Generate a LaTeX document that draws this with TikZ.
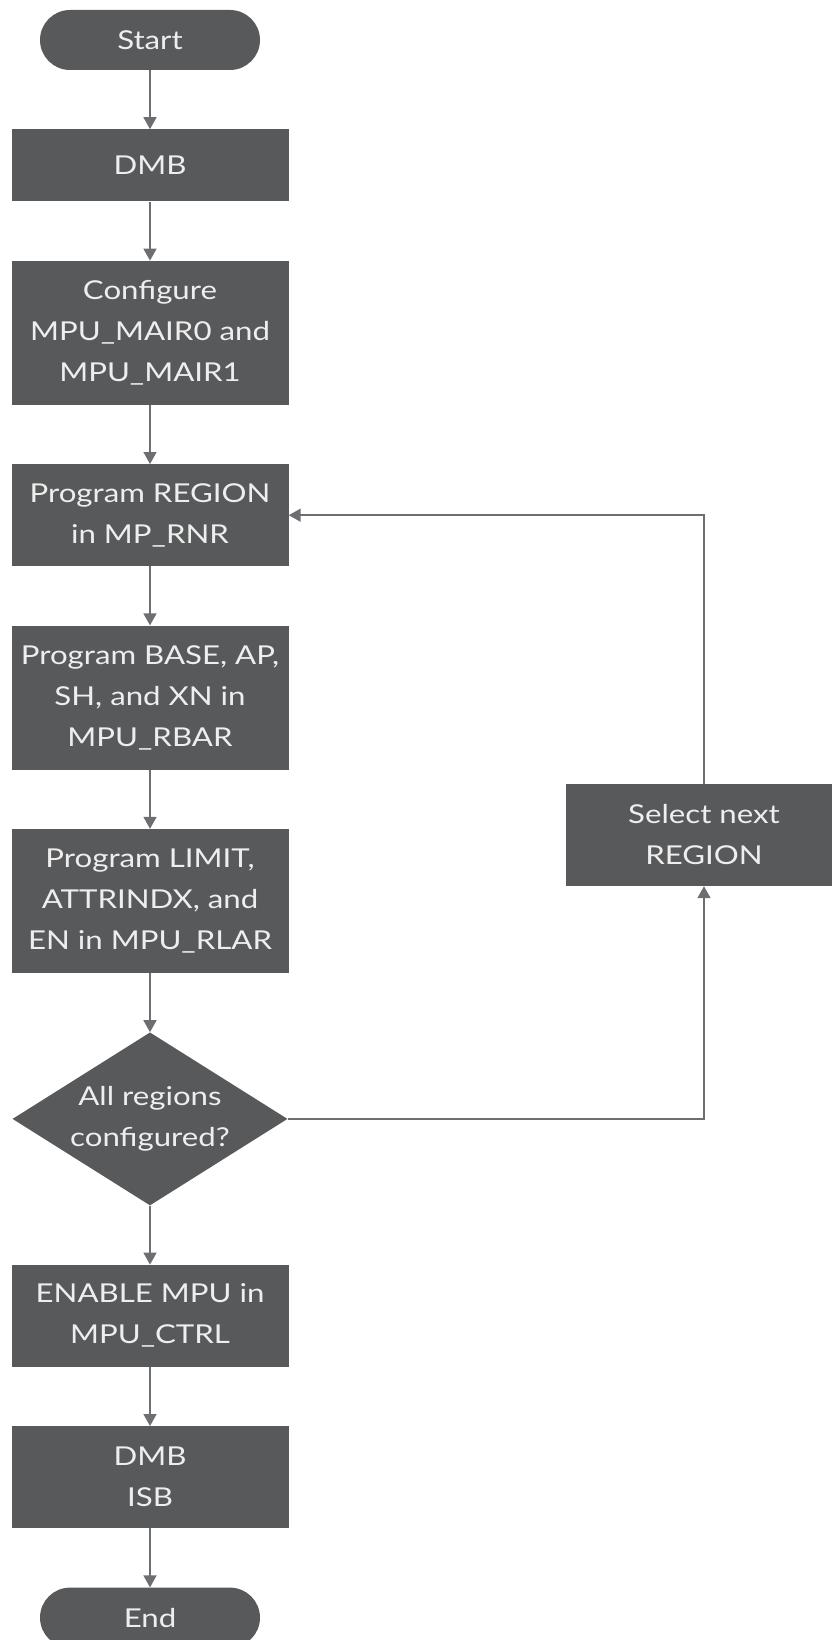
\documentclass[tikz,border=0pt]{standalone}
\usepackage{fontspec}
\setmainfont{Lato}[FakeStretch=1.2]
\usetikzlibrary{arrows.meta,positioning,shapes.geometric}
\definecolor{boxgray}{HTML}{58595B}
\definecolor{linegray}{HTML}{6D6E71}
\definecolor{textgray}{HTML}{EEEEEE}

\begin{document}
\begin{tikzpicture}[
  x=1pt, y=1pt,
  node distance=59pt,
  every node/.style={fill=boxgray, text=textgray, align=center,
                     font=\fontsize{26}{41}\selectfont, inner sep=0pt,
                     minimum width=277pt, minimum height=102pt},
  term/.style={minimum width=220pt, minimum height=60pt, rounded corners=30pt},
  tall/.style={minimum height=144pt},
  decide/.style={diamond, aspect=1.6, minimum width=275pt, minimum height=173pt},
  arr/.style={-{Triangle[width=13pt,length=12pt]}, line width=1.6pt, draw=linegray}
]
\clip (0,0) rectangle (832,-1640);

\node[term] (start) at (150,-40) {Start};
\node (dmb)  [below=of start, minimum height=72pt] {DMB};
\node (mair) [below=of dmb, tall] {Configure\\ MPU\_MAIR0 and\\ MPU\_MAIR1};
\node (rnr)  [below=of mair] {Program REGION\\ in MP\_RNR};
\node (rbar) [below=of rnr, tall] {Program BASE, AP,\\ SH, and XN in\\ MPU\_RBAR};
\node (rlar) [below=of rbar, tall] {Program LIMIT,\\ ATTRINDX, and\\ EN in MPU\_RLAR};
\node (done) [below=of rlar, decide] {All regions\\ configured?};
\node (ctrl) [below=of done] {ENABLE MPU in\\ MPU\_CTRL};
\node (sync) [below=of ctrl] {DMB\\ ISB};
\node (stop) [below=of sync, term] {End};
\node (sel)  at (704,-835) {Select next\\ REGION};

\draw[arr] (start) -- (dmb);
\draw[arr] (dmb)  -- (mair);
\draw[arr] (mair) -- (rnr);
\draw[arr] (rnr)  -- (rbar);
\draw[arr] (rbar) -- (rlar);
\draw[arr] (rlar) -- (done);
\draw[arr] (done) -- (ctrl);
\draw[arr] (ctrl) -- (sync);
\draw[arr] (sync) -- (stop);
\draw[arr] (done.east) -| (sel.south);
\draw[arr] (sel.north) |- (rnr.east);
\end{tikzpicture}
\end{document}
